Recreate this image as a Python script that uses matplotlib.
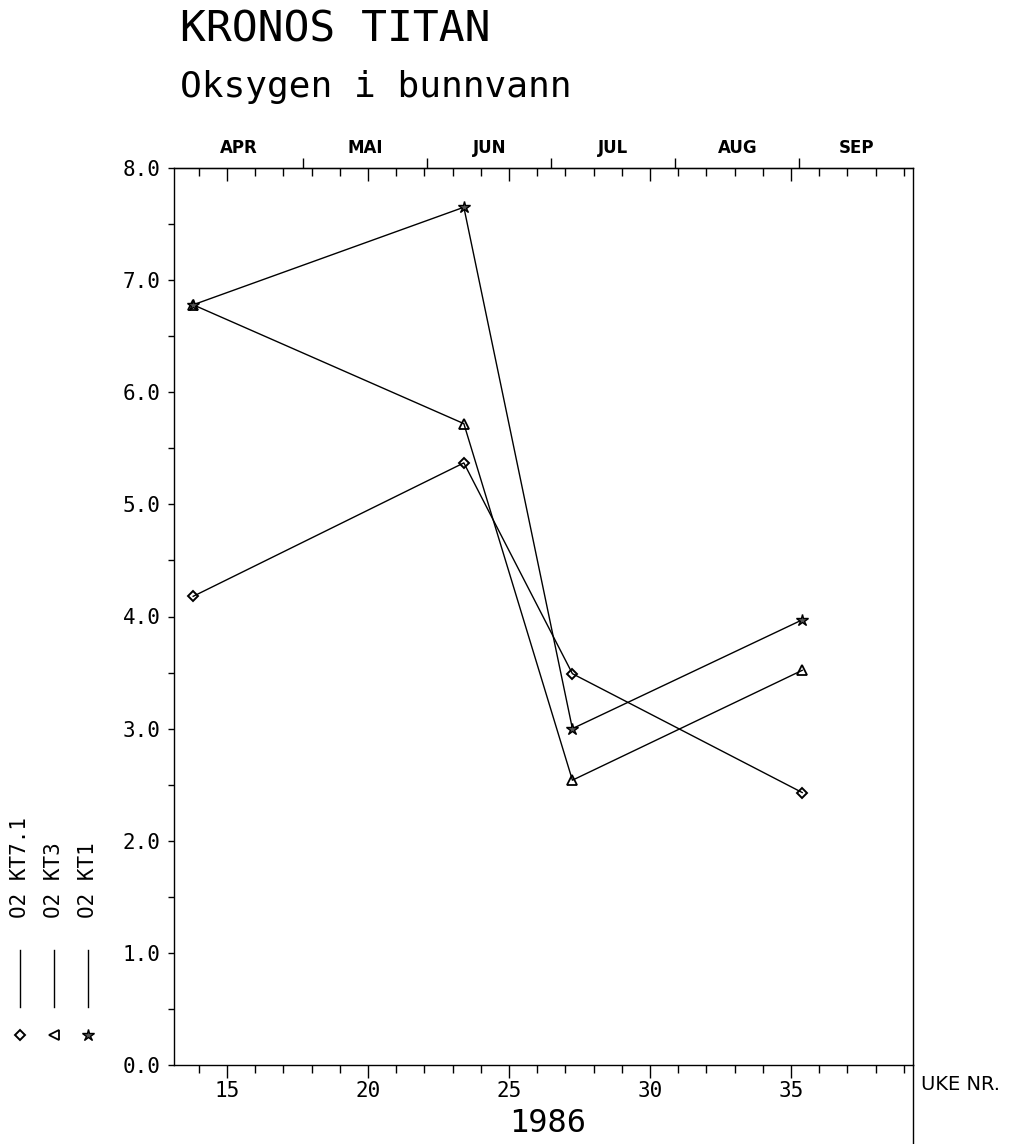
import numpy as np
import matplotlib
matplotlib.use('Agg')
from matplotlib import pyplot as plt
from matplotlib.ticker import MultipleLocator, FormatStrFormatter, FixedLocator, NullFormatter

# week numbers of the sampling dates (1986)
weeks = [13.8, 23.4, 27.25, 35.4]
kt71 = [4.18, 5.37, 3.49, 2.43]   # O2 KT7.1
kt3 = [6.78, 5.72, 2.54, 3.52]    # O2 KT3
kt1 = [6.78, 7.65, 3.00, 3.97]    # O2 KT1

# month starts expressed as week number, plus month names
month_edges = [17.7, 22.1, 26.5, 30.9, 35.3]
month_names = ['APR', 'MAI', 'JUN', 'JUL', 'AUG', 'SEP']

legend_labels = ['O2 KT7.1', 'O2 KT3', 'O2 KT1']

mono = 'DejaVu Sans Mono'
W, H = 1024, 1144
xmin, xmax = 13.12, 39.33

fig = plt.figure(figsize=(W / 100, H / 100), dpi=100)
ax = fig.add_axes([174 / W, 1 - 1065 / H, (913 - 174) / W, (1065 - 168) / H])

ax.plot(weeks, kt71, '-', color='black', lw=1.0, marker='D', ms=5.5, mfc='none', mec='black', mew=1.4)
ax.plot(weeks, kt3, '-', color='black', lw=1.0, marker='^', ms=7.5, mfc='none', mec='black', mew=1.3)
ax.plot(weeks, kt1, '-', color='black', lw=1.0, marker='*', ms=9, mfc='#555555', mec='black', mew=1.0)

ax.set_xlim(xmin, xmax)
ax.set_ylim(0, 8)
for s in ax.spines.values():
    s.set_linewidth(1.0)

ax.xaxis.set_major_locator(MultipleLocator(5))
ax.xaxis.set_minor_locator(MultipleLocator(1))
ax.yaxis.set_major_locator(MultipleLocator(1))
ax.yaxis.set_minor_locator(MultipleLocator(0.5))
ax.yaxis.set_major_formatter(FormatStrFormatter('%.1f'))
ax.tick_params(axis='x', which='major', direction='out', length=9.5, width=1, pad=2, labelsize=15)
ax.tick_params(axis='x', which='minor', direction='out', length=5.5, width=1)
ax.tick_params(axis='y', which='both', direction='out', length=4.5, width=1, pad=5, labelsize=15)
for lab in ax.get_xticklabels() + ax.get_yticklabels():
    lab.set_fontfamily(mono)

# top: week ticks pointing in
top = ax.secondary_xaxis('top')
top.xaxis.set_major_locator(MultipleLocator(5))
top.xaxis.set_minor_locator(MultipleLocator(1))
top.xaxis.set_major_formatter(NullFormatter())
top.tick_params(which='major', direction='in', length=9, width=1)
top.tick_params(which='minor', direction='in', length=6, width=1)

# top: month boundaries pointing out, names centred between them
mon = ax.secondary_xaxis('top')
edges = [xmin] + month_edges + [xmax]
centres = [(a + b) / 2 for a, b in zip(edges[:-1], edges[1:])]
mon.xaxis.set_major_locator(FixedLocator(month_edges))
mon.xaxis.set_major_formatter(NullFormatter())
mon.set_xticks(centres, month_names, minor=True)
mon.tick_params(which='major', direction='out', length=7, width=1)
mon.tick_params(which='minor', length=0, pad=8, labelsize=12)
for lab in mon.get_xticklabels(minor=True):
    lab.set_fontweight('bold')

# overlay in pixel coordinates for the texts and legend
ov = fig.add_axes([0, 0, 1, 1])
ov.set_xlim(0, W)
ov.set_ylim(H, 0)
ov.axis('off')
ov.patch.set_alpha(0)

ov.text(180, 42, 'KRONOS TITAN', fontsize=31, family=mono, va='baseline', ha='left')
ov.text(180, 97, 'Oksygen i bunnvann', fontsize=26, family=mono, va='baseline', ha='left')
ov.text(548, 1123, '1986', fontsize=23, family=mono, va='center', ha='center')
ov.text(921, 1084, 'UKE NR.', fontsize=14, va='center', ha='left')

# right spine continues below the axis
ov.plot([913, 913], [1065, 1144], color='black', lw=1.0)

legend_x = [20, 54, 88]
legend_markers = [dict(marker='D', ms=5.5, mfc='none', mew=1.4),
                  dict(marker='<', ms=7.5, mfc='none', mew=1.3),
                  dict(marker='*', ms=9, mfc='#555555', mew=1.0)]
for lx, lab, mk in zip(legend_x, legend_labels, legend_markers):
    ov.text(lx, 918, lab, fontsize=15, family=mono, rotation=90,
            rotation_mode='anchor', ha='left', va='center')
    ov.plot([lx, lx], [950, 1007], color='black', lw=1.0)
    ov.plot([lx], [1035], color='black', mec='black', **mk)

fig.savefig('out.png', dpi=100)
